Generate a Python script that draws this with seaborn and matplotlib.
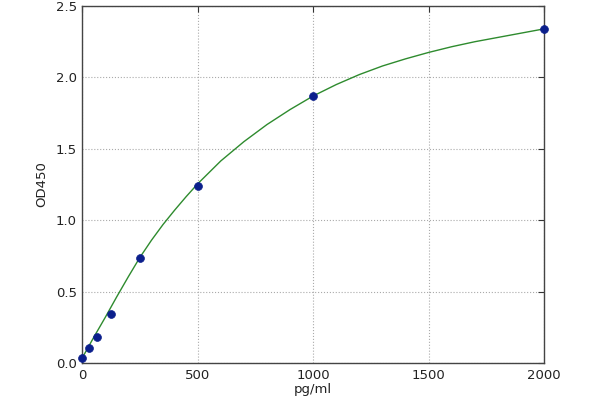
import numpy as np
import pandas as pd
import seaborn as sns
from matplotlib import pyplot as plt

# standard points (pg/ml vs OD450)
conc = [0, 31.25, 62.5, 125, 250, 500, 1000, 2000]
od = [0.033, 0.107, 0.18, 0.343, 0.733, 1.24, 1.87, 2.34]

# fitted curve
curve_x = [0, 50, 100, 150, 200, 250, 300, 350, 400, 450, 500, 600, 700, 800,
           900, 1000, 1100, 1200, 1300, 1400, 1500, 1600, 1700, 1800, 1900, 2000]
curve_y = [0.035, 0.18, 0.32, 0.465, 0.605, 0.74, 0.86, 0.97, 1.07, 1.165, 1.255,
           1.415, 1.55, 1.67, 1.775, 1.87, 1.95, 2.02, 2.08, 2.13, 2.175, 2.215,
           2.25, 2.28, 2.31, 2.34]

sns.set_style("white")
plt.rcParams['font.family'] = ['DejaVu Sans']
plt.rcParams['xtick.direction'] = 'in'
plt.rcParams['ytick.direction'] = 'in'

points = pd.DataFrame({'conc': conc, 'od': od})
fit = pd.DataFrame({'x': curve_x, 'y': curve_y})

fig = plt.figure(figsize=(6, 4), dpi=100)
ax = fig.add_axes([0.137, 0.0925, 0.77, 0.8925])

sns.lineplot(data=fit, x='x', y='y', ax=ax, color='#2e8b2e', linewidth=1)
sns.scatterplot(data=points, x='conc', y='od', ax=ax, color='#0b1f8c',
                s=32, edgecolor='#0b1f8c', linewidth=0.5, zorder=3, clip_on=False)

ax.set_xlim(0, 2000)
ax.set_ylim(0, 2.5)
ax.set_xticks([0, 500, 1000, 1500, 2000])
ax.set_yticks([0.0, 0.5, 1.0, 1.5, 2.0, 2.5])
ax.set_yticklabels(['0.0', '0.5', '1.0', '1.5', '2.0', '2.5'])
ax.grid(True, linestyle=':', color='#aaaaaa', linewidth=0.8)
ax.tick_params(axis='both', which='both', direction='in', top=True, right=True,
               length=4, width=0.8, color='#333333', labelsize=9.5, pad=4,
               labelcolor='#222222')
for sp in ax.spines.values():
    sp.set_color('#444444')
    sp.set_linewidth(1)

ax.set_xlabel('pg/ml', fontsize=9.5, color='#222222', labelpad=1)
ax.set_ylabel('OD450', fontsize=9.5, color='#222222', labelpad=5)

fig.savefig('out.png', dpi=100)
